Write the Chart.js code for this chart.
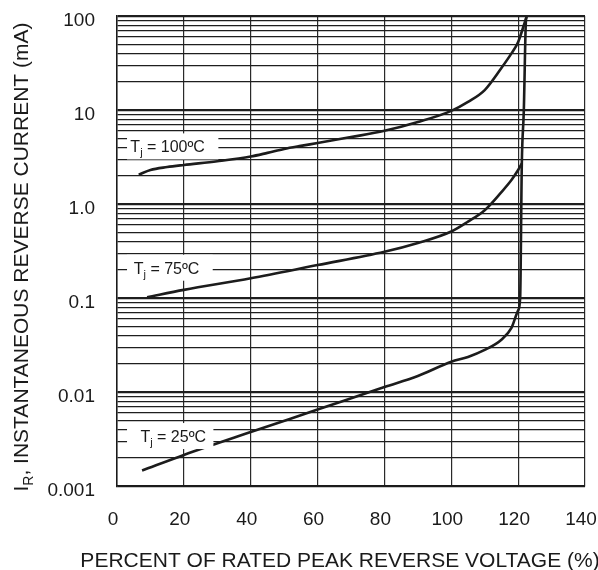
<!DOCTYPE html>
<html>
<head>
<meta charset="utf-8">
<script src="https://cdn.jsdelivr.net/npm/chart.js@4"></script>
<style>
  html, body { margin: 0; padding: 0; background: #fff; }
  #wrap { width: 598px; height: 570px; }
</style>
</head>
<body>
<div id="wrap"><canvas id="c" width="598" height="570"></canvas></div>
<script>
// ---- Data ----
const xTickValues = [0, 20, 40, 60, 80, 100, 120, 140];
const yDecades = [0.001, 0.01, 0.1, 1, 10, 100];
const yDecadeLabels = ['0.001', '0.01', '0.1', '1.0', '10', '100'];
const yMinorSteps = [2, 3, 4, 5, 6, 7, 8, 9];

const x100 = [6.5, 10, 15, 20, 30, 40, 45, 50, 55, 60, 70, 80, 90, 100, 105, 110, 115, 118, 120, 122, 122.5];
const y100 = [2.05, 2.3, 2.47, 2.6, 2.85, 3.2, 3.5, 3.85, 4.15, 4.45, 5.15, 6.0, 7.45, 9.8, 12.2, 16.3, 28, 40, 53, 86, 98];

const x75 = [9, 20, 40, 60, 80, 90, 100, 105, 110, 115, 118, 120, 121.1];
const y75 = [0.102, 0.122, 0.162, 0.224, 0.31, 0.385, 0.51, 0.65, 0.86, 1.34, 1.8, 2.3, 2.7];

const x25 = [7.5, 20, 40, 60, 80, 90, 100, 105, 110, 115, 118, 120, 120.6, 121.1, 121.7, 122.3, 122.5];
const y25 = [0.00146, 0.00214, 0.00375, 0.0065, 0.0113, 0.0148, 0.021, 0.0236, 0.028, 0.036, 0.048, 0.074, 0.1, 2.7, 10, 86, 98];

const seriesTemps = ['100', '75', '25'];

// ---- Helpers ----
const toPts = (xs, ys) => xs.map((x, i) => ({ x: x, y: ys[i] }));
const decadeIndex = v => yDecades.findIndex(d => Math.abs(Math.log10(v) - Math.log10(d)) < 1e-6);
const yTickValues = [];
yDecades.forEach((d, i) => {
  yTickValues.push(d);
  if (i < yDecades.length - 1) yMinorSteps.forEach(m => yTickValues.push(d * m));
});

const FONT = "'Liberation Sans', Arial, sans-serif";
const lineStyle = {
  showLine: true, borderColor: '#1c1c1c', borderWidth: 2.6, pointRadius: 0,
  fill: false, cubicInterpolationMode: 'monotone'
};

// label anchors (data coords) for the temperature tags
const tagAnchors = [
  { x: 4, y: 4.1, boxW: 91 },
  { x: 5, y: 0.21, boxW: 82 },
  { x: 7, y: 0.0034, boxW: 76 }
];

const overlayPlugin = {
  id: 'overlay',
  afterDraw(chart) {
    const ctx = chart.ctx;
    const xs = chart.scales.x, ys = chart.scales.y;
    ctx.save();
    tagAnchors.forEach((a, i) => {
      const px = xs.getPixelForValue(a.x);
      const py = ys.getPixelForValue(a.y);
      const bx = xs.getPixelForValue(3);
      ctx.fillStyle = '#fff';
      ctx.fillRect(bx, py - 13, a.boxW + (px - bx) - 3, 26);
      ctx.fillStyle = '#1a1a1a';
      ctx.textBaseline = 'alphabetic';
      ctx.textAlign = 'left';
      const base = py + 6;
      ctx.font = '16px ' + FONT;
      ctx.fillText('T', px, base);
      let w = ctx.measureText('T').width;
      ctx.font = '11px ' + FONT;
      ctx.fillText('j', px + w, base + 4);
      w += ctx.measureText('j').width;
      ctx.font = '16px ' + FONT;
      ctx.fillText(' = ' + seriesTemps[i] + 'ºC', px + w, base);
    });
    ctx.font = '21px ' + FONT;
    ctx.fillStyle = '#1a1a1a';
    ctx.textAlign = 'center';
    ctx.fillText('PERCENT OF RATED PEAK REVERSE VOLTAGE (%)', 340, 567);
    ctx.translate(28, 257);
    ctx.rotate(-Math.PI / 2);
    ctx.textAlign = 'left';
    const parts = [
      { t: 'I', f: '21px ', dy: 0 },
      { t: 'R', f: '14px ', dy: 5 },
      { t: ', INSTANTANEOUS REVERSE CURRENT (mA)', f: '21px ', dy: 0 }
    ];
    let total = 0;
    parts.forEach(p => { ctx.font = p.f + FONT; p.w = ctx.measureText(p.t).width; total += p.w; });
    let cx = -total / 2;
    parts.forEach(p => { ctx.font = p.f + FONT; ctx.fillText(p.t, cx, p.dy); cx += p.w; });
    ctx.restore();
  }
};

new Chart(document.getElementById('c'), {
  type: 'scatter',
  data: {
    datasets: [
      Object.assign({ label: 'Tj = 100ºC', data: toPts(x100, y100) }, lineStyle),
      Object.assign({ label: 'Tj = 75ºC', data: toPts(x75, y75) }, lineStyle),
      Object.assign({ label: 'Tj = 25ºC', data: toPts(x25, y25) }, lineStyle)
    ]
  },
  options: {
    responsive: false,
    animation: false,
    devicePixelRatio: 1,
    layout: { padding: { top: 16, right: 13, left: 0, bottom: 0 } },
    plugins: { legend: { display: false }, tooltip: { enabled: false }, title: { display: false } },
    scales: {
      x: {
        type: 'linear', min: 0, max: 140,
        afterBuildTicks: s => { s.ticks = xTickValues.map(v => ({ value: v })); },
        afterFit: s => { s.height = 84; s.paddingLeft = 0; s.paddingRight = 0; },
        grid: { color: '#2a2a2a', lineWidth: 1.2, drawTicks: false },
        border: { display: true, color: '#1a1a1a', width: 1.5 },
        ticks: { font: { family: FONT, size: 19 }, color: '#1a1a1a', padding: 22, labelOffset: -4, maxRotation: 0, autoSkip: false }
      },
      y: {
        type: 'logarithmic', min: 0.001, max: 100,
        afterBuildTicks: s => { s.ticks = yTickValues.map(v => ({ value: v })); },
        afterFit: s => { s.width = 117; s.paddingTop = 0; s.paddingBottom = 0; },
        grid: {
          color: '#1e1e1e', drawTicks: false,
          lineWidth: c => (c.tick && decadeIndex(c.tick.value) >= 0) ? 2.2 : 1.2
        },
        border: { display: true, color: '#1a1a1a', width: 1.5 },
        ticks: {
          font: { family: FONT, size: 19 }, color: '#1a1a1a', padding: 22, autoSkip: false, labelOffset: 5,
          callback: v => { const i = decadeIndex(v); return i >= 0 ? yDecadeLabels[i] : ''; }
        }
      }
    }
  },
  plugins: [overlayPlugin]
});
</script>
</body>
</html>
